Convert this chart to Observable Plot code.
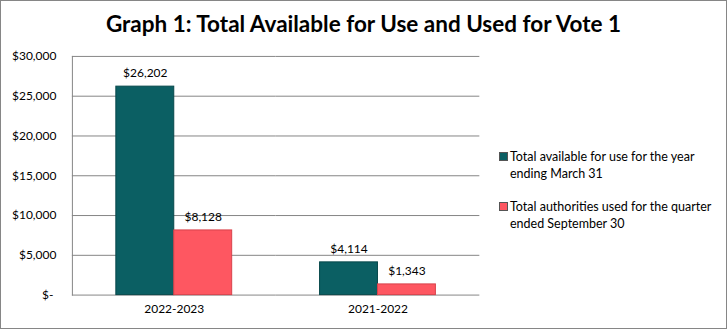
<!DOCTYPE html>
<html><head><meta charset="utf-8">
<script src="https://cdn.jsdelivr.net/npm/d3@7"></script>
<script src="https://cdn.jsdelivr.net/npm/@observablehq/plot@0.6"></script>
<style>
body{margin:0;background:#fff;}
#wrap{position:relative;width:727px;height:329px;box-sizing:border-box;border:1px solid #868686;overflow:hidden;font-family:Lato,sans-serif;background:#fff;}
#chart{position:absolute;left:-1px;top:-1px;}
#title{position:absolute;left:-1px;top:9px;width:727px;text-align:center;font-weight:bold;font-size:22.5px;color:#000;}
#legend{position:absolute;left:498px;top:147px;font-size:12.5px;line-height:17px;color:#000;}
.item{position:relative;padding-left:11px;margin-bottom:16px;}
.sw{position:absolute;left:0;top:4px;width:7px;height:7px;border:0.5px solid #555;}
</style></head><body>
<div id="wrap"><div id="chart"></div><div id="title"></div><div id="legend"></div></div>
<script>
const titleText = "Graph 1: Total Available for Use and Used for Vote 1";
const years = ["2022-2023", "2021-2022"];
const legendLines = [
  ["Total available for use for the year", "ending March 31"],
  ["Total authorities used for the quarter", "ended September 30"]
];
const seriesNames = legendLines.map(l => l.join(" "));
const available = [26202, 4114];
const used = [8128, 1343];
const yTicks = [0, 5000, 10000, 15000, 20000, 25000, 30000];
const colors = ["#0b5f63", "#fe5761"];
const strokes = ["#07484b", "#d8434c"];

const rows = [];
years.forEach((yr, i) => {
  rows.push({year: yr, series: seriesNames[0], value: available[i]});
  rows.push({year: yr, series: seriesNames[1], value: used[i]});
});
const money = d => d === 0 ? "$-\u00a0" : "$" + d3.format(",")(d);

const plot = Plot.plot({
  width: 727, height: 329,
  marginLeft: 71, marginRight: 247, marginTop: 56, marginBottom: 34,
  style: {fontFamily: "Lato, sans-serif", fontSize: "12px", color: "#000", background: "transparent"},
  fx: {domain: years, padding: 0, axis: "bottom", label: null, tickSize: 0, tickPadding: 9},
  x: {domain: seriesNames, paddingInner: 0, paddingOuter: 0.733, axis: null},
  y: {domain: [0, 30000], ticks: yTicks, tickFormat: money, tickSize: 0, tickPadding: 16, label: null},
  color: {domain: seriesNames, range: colors},
  marks: [
    Plot.ruleY(yTicks, {stroke: "#868686", strokeWidth: 1, strokeOpacity: 1}),
    Plot.frame({anchor: "left", facet: "super", stroke: "#868686", strokeOpacity: 1}),
    Plot.barY(rows, {fx: "year", x: "series", y: "value", fill: "series",
      stroke: d => strokes[seriesNames.indexOf(d.series)], strokeWidth: 1}),
    Plot.text(rows, {fx: "year", x: "series", y: "value", text: d => money(d.value), dy: -13, fill: "#000"})
  ]
});
document.getElementById("chart").appendChild(plot);
document.getElementById("title").textContent = titleText;
const leg = document.getElementById("legend");
legendLines.forEach((lines, i) => {
  const it = document.createElement("div");
  it.className = "item";
  const sw = document.createElement("span");
  sw.className = "sw";
  sw.style.background = colors[i];
  it.appendChild(sw);
  lines.forEach((t, j) => {
    if (j) it.appendChild(document.createElement("br"));
    it.appendChild(document.createTextNode(t));
  });
  leg.appendChild(it);
});
</script>
</body></html>
